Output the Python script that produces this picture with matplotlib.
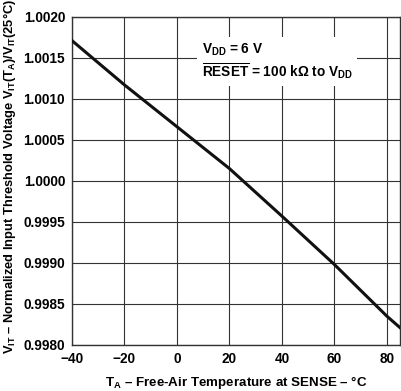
import numpy as np
import matplotlib
matplotlib.use('Agg')
from matplotlib import pyplot as plt

plt.rcParams['font.family'] = ['Liberation Sans', 'DejaVu Sans']
plt.rcParams['font.weight'] = 'bold'
plt.rcParams['mathtext.fontset'] = 'custom'
plt.rcParams['mathtext.rm'] = 'Liberation Sans:bold'
plt.rcParams['mathtext.it'] = 'Liberation Sans:bold'
plt.rcParams['mathtext.bf'] = 'Liberation Sans:bold'
plt.rcParams['mathtext.default'] = 'rm'

# temperature (C) vs normalized threshold voltage
temps = [-40, -20, 0, 20, 40, 60, 80, 85]
vnorm = [1.00171, 1.00117, 1.00066, 1.00015, 0.99957, 0.99898, 0.99835, 0.99821]

xticks = [-40, -20, 0, 20, 40, 60, 80]
yticks = [0.9980, 0.9985, 0.9990, 0.9995, 1.0000, 1.0005, 1.0010, 1.0015, 1.0020]

fig = plt.figure(figsize=(4.02, 3.91), dpi=100)
ax = fig.add_axes([0.179, 0.118, 0.816, 0.839])

ax.plot(temps, vnorm, color='#111111', lw=2.2, zorder=3)

ax.set_xlim(-40, 85)
ax.set_ylim(0.9980, 1.0020)
ax.set_xticks(xticks)
ax.set_yticks(yticks)
ax.set_yticklabels(['%.4f' % v for v in yticks])
ax.tick_params(length=0, labelsize=9.8, pad=5)
ax.grid(True, color='#333333', lw=0.8)
for s in ax.spines.values():
    s.set_color('#333333')
    s.set_linewidth(1.0)

ax.set_xlabel(r'$\text{T}_{\text{A}}\text{ – Free-Air Temperature at SENSE – °C}$',
              fontsize=9.6, fontweight='bold', labelpad=6)
ax.set_ylabel(r'$\text{V}_{\text{IT}}\text{ – Normalized Input Threshold Voltage V}_{\text{IT}}\text{(T}_{\text{A}}\text{)/V}_{\text{IT}}\text{(25°C)}$',
              fontsize=9.3, fontweight='bold')
ax.yaxis.set_label_coords(-0.166, 0.513)

ax.text(0.395, 0.925, r'V$_{\mathrm{DD}}$ = 6 V' + '\n' + r'$\overline{\mathrm{RESET}}$ = 100 k$\Omega$ to V$_{\mathrm{DD}}$',
        transform=ax.transAxes, fontsize=9.8, fontweight='bold', va='top', ha='left', linespacing=1.25,
        bbox=dict(facecolor='white', edgecolor='none', pad=3), zorder=4)

fig.savefig('out.png', dpi=100)
